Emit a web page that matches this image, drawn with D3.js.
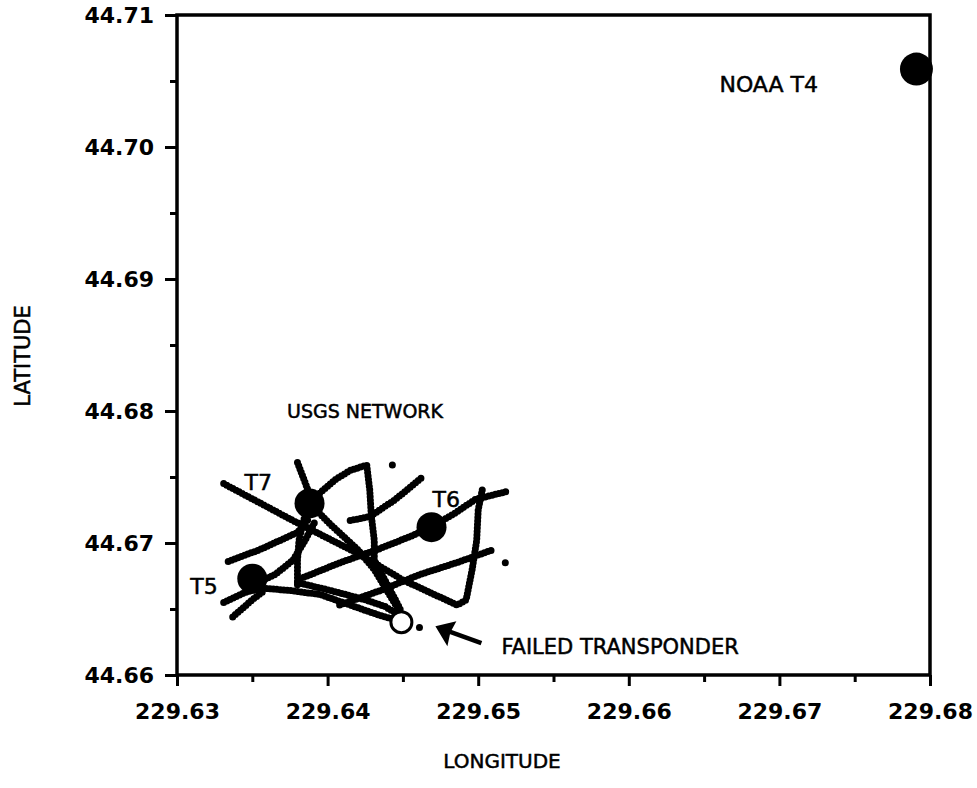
<!DOCTYPE html>
<html lang="en">
<head>
<meta charset="UTF-8">
<title>USGS network transponders</title>
<script src="https://cdnjs.cloudflare.com/ajax/libs/d3/7.8.5/d3.min.js"></script>
<style>
    body { margin: 0; background: #fff; }
    svg { display: block; }
    .tick text { font-family: "DejaVu Sans", sans-serif; font-weight: bold; font-size: 22px; fill: #000; }
    .tick line { stroke: #000; stroke-width: 3; }
    .lbl { font-family: "DejaVu Sans", sans-serif; fill: #000; stroke: #000; stroke-width: 0.5; }
</style>
</head>
<body>
<svg width="977" height="788"></svg>
<script>
// axis ticks
const lonTicks = [229.63, 229.64, 229.65, 229.66, 229.67, 229.68];
const lonMinor = [229.635, 229.645, 229.655, 229.665, 229.675];
const latTicks = [44.66, 44.67, 44.68, 44.69, 44.70, 44.71];
const latMinor = [44.665, 44.675, 44.685, 44.695, 44.705];

// ship tracks over the USGS network (lon, lat)
const tracks = [
    [[229.6331,44.6745],[229.6377,44.6717],[229.6422,44.6691],[229.6450,44.6672],[229.6486,44.6653],[229.6492,44.6657],[229.6496,44.6680],[229.6499,44.6702],[229.6500,44.6725],[229.6503,44.6742]],
    [[229.6382,44.6673],[229.6408,44.6685],[229.6433,44.6695],[229.6455,44.6705],[229.6469,44.6712],[229.6485,44.6723],[229.6498,44.6733],[229.6519,44.6739]],
    [[229.6408,44.6653],[229.6435,44.6664],[229.6461,44.6676],[229.6488,44.6686],[229.6510,44.6695]],
    [[229.6380,44.6761],[229.6384,44.6749],[229.6387,44.6740],[229.6388,44.6730],[229.6384,44.6717],[229.6381,44.6702],[229.6380,44.6687],[229.6380,44.6668]],
    [[229.6393,44.6736],[229.6405,44.6748],[229.6415,44.6755],[229.6426,44.6759],[229.6428,44.6740],[229.6429,44.6721],[229.6431,44.6702],[229.6431,44.6687],[229.6438,44.6672],[229.6445,44.6657],[229.6449,44.6648]],
    [[229.6415,44.6717],[229.6428,44.6720],[229.6445,44.6733],[229.6463,44.6750]],
    [[229.6388,44.6730],[229.6402,44.6714],[229.6420,44.6695],[229.6431,44.6680],[229.6441,44.6661],[229.6448,44.6648]],
    [[229.6334,44.6686],[229.6355,44.6695],[229.6380,44.6708],[229.6388,44.6719]],
    [[229.6350,44.6668],[229.6365,44.6676],[229.6377,44.6687],[229.6385,44.6702],[229.6392,44.6717]],
    [[229.6331,44.6655],[229.6344,44.6662],[229.6355,44.6666],[229.6375,44.6664],[229.6395,44.6661],[229.6415,44.6653],[229.6435,44.6645],[229.6445,44.6642]],
    [[229.6337,44.6644],[229.6350,44.6657],[229.6358,44.6664]],
    [[229.6380,44.6670],[229.6402,44.6664],[229.6425,44.6657],[229.6438,44.6652],[229.6448,44.6645]]
];
const strayFixes = [[229.6443,44.6759],[229.6518,44.6685],[229.6461,44.6636]];

// transponders
const stationNames = ["NOAA T4", "T7", "T6", "T5", "FAILED"];
const stationLon = [229.6791, 229.6388, 229.6469, 229.6350, 229.6449];
const stationLat = [44.7059, 44.6730, 44.6712, 44.6673, 44.6640];
const stationFailed = [false, false, false, false, true];

const svg = d3.select("svg");
const mLeft = 177, mRight = 930, mTop = 15, mBottom = 675;

const x = d3.scaleLinear().domain([229.63, 229.68]).range([mLeft, mRight]);
const y = d3.scaleLinear().domain([44.66, 44.71]).range([mBottom, mTop]);
const fmt = d3.format(".2f");

// axes
svg.append("g").attr("transform", `translate(0,${mBottom})`)
    .call(d3.axisBottom(x).tickValues(lonMinor).tickSize(7).tickFormat(""))
    .call(g => g.select(".domain").remove());
svg.append("g").attr("transform", `translate(0,${mBottom})`)
    .call(d3.axisBottom(x).tickValues(lonTicks).tickSize(11).tickPadding(17).tickFormat(fmt))
    .call(g => g.select(".domain").remove());
svg.append("g").attr("transform", `translate(${mLeft},0)`)
    .call(d3.axisLeft(y).tickValues(latMinor).tickSize(7).tickFormat(""))
    .call(g => g.select(".domain").remove());
svg.append("g").attr("transform", `translate(${mLeft},0)`)
    .call(d3.axisLeft(y).tickValues(latTicks).tickSize(12).tickPadding(11).tickFormat(fmt))
    .call(g => g.select(".domain").remove());

// frame
svg.append("rect")
    .attr("x", mLeft).attr("y", mTop)
    .attr("width", mRight - mLeft).attr("height", mBottom - mTop)
    .attr("fill", "none").attr("stroke", "#000").attr("stroke-width", 3.5);

// tracks drawn as dense fixes
const line = d3.line().x(d => x(d[0])).y(d => y(d[1]));
svg.append("g").selectAll("path")
    .data(tracks)
    .join("path")
    .attr("d", line)
    .attr("fill", "none")
    .attr("stroke", "#000")
    .attr("stroke-width", 7)
    .attr("stroke-linecap", "round")
    .attr("stroke-linejoin", "round")
    .attr("stroke-dasharray", "0 3.5");

svg.append("g").selectAll("circle")
    .data(strayFixes)
    .join("circle")
    .attr("cx", d => x(d[0]))
    .attr("cy", d => y(d[1]))
    .attr("r", 3.5)
    .attr("fill", "#000");

// transponder markers
const stations = stationNames.map((n, i) => ({ name: n, lon: stationLon[i], lat: stationLat[i], failed: stationFailed[i] }));
svg.append("g").selectAll("circle")
    .data(stations)
    .join("circle")
    .attr("cx", d => x(d.lon))
    .attr("cy", d => y(d.lat))
    .attr("r", d => d.failed ? 10.5 : (d.name === "NOAA T4" ? 16.5 : 15))
    .attr("fill", d => d.failed ? "#fff" : "#000")
    .attr("stroke", "#000")
    .attr("stroke-width", d => d.failed ? 3 : 0);

// labels
const labelOffsets = {
    "NOAA T4": [-197, 23, 22],
    "T7": [-65, -13, 22],
    "T6": [1, -20, 22],
    "T5": [-62, 15, 22]
};
stations.filter(d => labelOffsets[d.name]).forEach(d => {
    const [dx, dy, fs] = labelOffsets[d.name];
    svg.append("text").attr("class", "lbl")
        .attr("x", x(d.lon) + dx).attr("y", y(d.lat) + dy)
        .attr("font-size", fs)
        .text(d.name);
});

svg.append("text").attr("class", "lbl")
    .attr("x", 287).attr("y", 418).attr("font-size", 19)
    .text("USGS NETWORK");

const failed = stations.find(d => d.failed);
const fx = x(failed.lon), fy = y(failed.lat);
svg.append("text").attr("class", "lbl")
    .attr("x", fx + 100).attr("y", fy + 32).attr("font-size", 21)
    .text("FAILED TRANSPONDER");

// arrow pointing at the failed transponder
const tipX = fx + 34, tipY = fy + 4;
svg.append("line")
    .attr("x1", tipX + 10).attr("y1", tipY + 4)
    .attr("x2", tipX + 46).attr("y2", tipY + 17)
    .attr("stroke", "#000").attr("stroke-width", 4.5);
svg.append("path")
    .attr("d", `M${tipX},${tipY} L${tipX + 21},${tipY - 5} L${tipX + 15},${tipY + 6} L${tipX + 12},${tipY + 20} Z`)
    .attr("fill", "#000");

// axis titles
svg.append("text").attr("class", "lbl")
    .attr("text-anchor", "middle")
    .attr("transform", "translate(30,356) rotate(-90)")
    .attr("font-size", 21)
    .text("LATITUDE");
svg.append("text").attr("class", "lbl")
    .attr("text-anchor", "middle")
    .attr("x", 502).attr("y", 768)
    .attr("font-size", 20)
    .text("LONGITUDE");
</script>
</body>
</html>
